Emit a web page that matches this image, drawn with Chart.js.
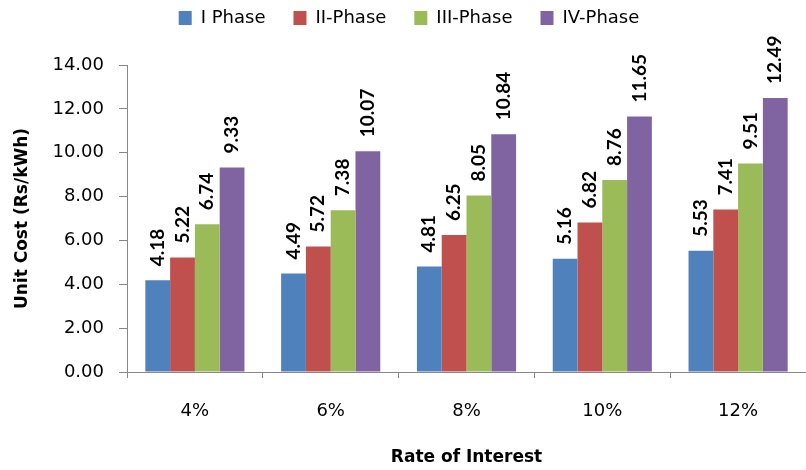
<!DOCTYPE html>
<html>
<head>
<meta charset="utf-8">
<script src="https://cdn.jsdelivr.net/npm/chart.js@4/dist/chart.umd.min.js"></script>
<style>
  html, body { margin: 0; padding: 0; background: #fff; }
  #wrap { width: 806px; height: 470px; }
</style>
</head>
<body>
<div id="wrap"><canvas id="c" width="806" height="470"></canvas></div>
<script>
// Unit cost by rate of interest for the four phases
const rates = ['4%', '6%', '8%', '10%', '12%'];
const phaseNames = ['I Phase', 'II-Phase', 'III-Phase', 'IV-Phase'];
const phase1 = [4.18, 4.49, 4.81, 5.16, 5.53];
const phase2 = [5.22, 5.72, 6.25, 6.82, 7.41];
const phase3 = [6.74, 7.38, 8.05, 8.76, 9.51];
const phase4 = [9.33, 10.07, 10.84, 11.65, 12.49];
const yTicks = [0, 2, 4, 6, 8, 10, 12, 14];

const colors = ['#4F81BD', '#C0504D', '#9BBB59', '#8064A2'];
const FONT = "'DejaVu Sans', sans-serif";
const LABEL_FONT = "'Lato', sans-serif";

// Rotated value labels above each bar
const valueLabels = {
  id: 'valueLabels',
  afterDatasetsDraw(chart) {
    const ctx = chart.ctx;
    ctx.save();
    ctx.font = "bold 19px " + LABEL_FONT;
    ctx.fillStyle = '#000';
    ctx.textAlign = 'left';
    ctx.textBaseline = 'middle';
    chart.data.datasets.forEach((ds, i) => {
      chart.getDatasetMeta(i).data.forEach((bar, j) => {
        ctx.save();
        ctx.translate(bar.x, bar.y - 14);
        ctx.rotate(-Math.PI / 2);
        ctx.fillText(ds.data[j].toFixed(2), 0, 0);
        ctx.restore();
      });
    });
    ctx.restore();
  }
};

// Legend band: fixed height, items sit near the top edge
const legendBand = {
  id: 'legendBand',
  beforeInit(chart) {
    const lg = chart.legend;
    if (!lg) return;
    const fit = lg.fit;
    lg.fit = function () { fit.call(this); this.height = 65; };
    const draw = lg.draw;
    lg.draw = function () {
      const c = this.ctx;
      c.save();
      c.translate(6, -19);
      draw.call(this);
      c.restore();
    };
  }
};

const series = [phase1, phase2, phase3, phase4];

new Chart(document.getElementById('c'), {
  type: 'bar',
  data: {
    labels: rates,
    datasets: series.map((vals, i) => ({
      label: phaseNames[i],
      data: vals,
      backgroundColor: colors[i],
      borderWidth: 0,
      categoryPercentage: 0.73,
      barPercentage: 1.0
    }))
  },
  options: {
    responsive: false,
    animation: false,
    layout: { padding: 0 },
    plugins: {
      legend: {
        position: 'top',
        labels: {
          font: { family: FONT, size: 18 },
          color: '#000',
          boxWidth: 13,
          boxHeight: 14,
          padding: 28
        }
      },
      tooltip: { enabled: false }
    },
    scales: {
      x: {
        afterFit(s) { s.height = 98; },
        border: { color: '#888', width: 1 },
        grid: { drawOnChartArea: false, drawTicks: true, tickLength: 6, color: '#888', offset: true },
        ticks: { font: { family: FONT, size: 18 }, color: '#000', padding: 23 },
        title: {
          display: true,
          text: 'Rate of Interest',
          font: { family: FONT, size: 17, weight: 'bold' },
          color: '#000',
          padding: { top: 0, bottom: 2 }
        }
      },
      y: {
        min: 0,
        max: 14,
        afterFit(s) { s.width = 127; },
        afterBuildTicks(s) { s.ticks = yTicks.map(v => ({ value: v })); },
        border: { color: '#888', width: 1 },
        grid: { drawOnChartArea: false, drawTicks: true, tickLength: 8, color: '#888' },
        ticks: {
          font: { family: FONT, size: 18 },
          color: '#000',
          padding: 15,
          callback: v => Number(v).toFixed(2)
        },
        title: {
          display: true,
          text: 'Unit Cost (Rs/kWh)',
          font: { family: FONT, size: 17, weight: 'bold' },
          color: '#000',
          padding: { top: 12, bottom: 0 }
        }
      }
    }
  },
  plugins: [valueLabels, legendBand]
});
</script>
</body>
</html>
